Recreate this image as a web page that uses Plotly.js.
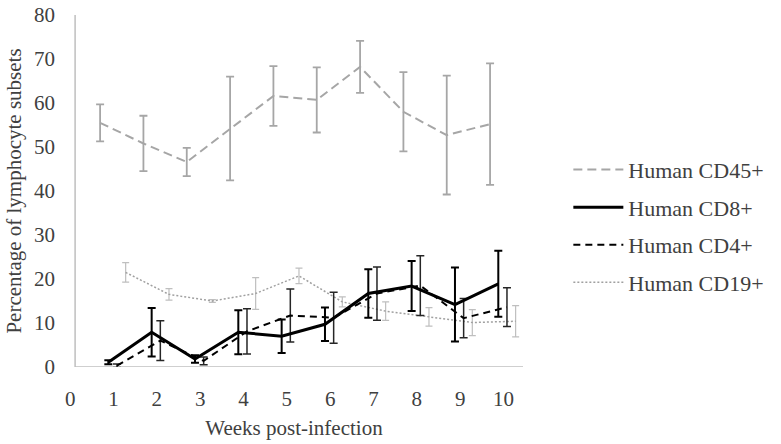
<!DOCTYPE html>
<html><head><meta charset="utf-8">
<script src="https://cdn.plot.ly/plotly-3.0.1.min.js"></script>
<style>html,body{margin:0;padding:0;background:#fff}</style>
</head><body><div id="chart" style="width:781px;height:444px"></div>
<script>
// ---- data ----
const weeks = [1, 2, 3, 4, 5, 6, 7, 8, 9, 10];
const xTickVals = [0, 1, 2, 3, 4, 5, 6, 7, 8, 9, 10];
const yTickVals = [0, 10, 20, 30, 40, 50, 60, 70, 80];
const seriesNames = ["Human CD45+", "Human CD8+", "Human CD4+", "Human CD19+"];

const cd45 = [55.5, 50.8, 46.6, 54.2, 61.6, 60.7, 68.2, 58.0, 52.7, 55.2];
const cd45Err = [4.2, 6.3, 3.2, 11.8, 6.8, 7.4, 5.9, 9.0, 13.5, 13.8];

const cd8 = [1.1, 7.9, 1.8, 7.9, 7.0, 9.7, 16.7, 18.4, 14.2, 18.9];
const cd8Err = [0.45, 5.5, 0.85, 5.0, 3.8, 3.8, 5.5, 5.7, 8.4, 7.5];

const cd4 = [0.3, 6.0, 1.4, 8.1, 11.7, 11.2, 16.7, 18.5, 11.1, 13.6];
const cd4Err = [0.4, 4.5, 0.9, 5.15, 6.0, 5.8, 6.05, 6.8, 4.45, 4.4];

const cd19 = [21.5, 16.5, 15.0, 16.7, 20.7, 14.8, 12.7, 11.4, 10.1, 10.4];
const cd19Err = [2.2, 1.3, 0.3, 3.6, 1.75, 1.15, 2.1, 2.1, 2.95, 3.55];

// ---- styling (positions / looks) ----
const styles = {
  cd45: {offset: -0.31, color: '#a6a6a6', width: 2, dash: '9px,5px', errColor: '#a6a6a6', errW: 1.8, cap: 4, rank: 1},
  cd8:  {offset: -0.12, color: '#000000', width: 3, dash: 'solid', errColor: '#000000', errW: 2, cap: 4, rank: 2},
  cd4:  {offset: 0.08, color: '#000000', width: 2, dash: '7px,5px', errColor: '#262626', errW: 1.5, cap: 4, rank: 3},
  cd19: {offset: 0.28, color: '#a0a0a0', width: 1.5, dash: '2px,2px', errColor: '#bfbfbf', errW: 1.2, cap: 3.5, rank: 4}
};

function mk(name, ys, errs, s) {
  return {
    type: 'scatter', mode: 'lines', name: name,
    x: weeks.map(w => w + s.offset), y: ys,
    line: {color: s.color, width: s.width, dash: s.dash},
    error_y: {type: 'data', array: errs, symmetric: true, color: s.errColor, thickness: s.errW, width: s.cap},
    legendrank: s.rank, legendgroup: name, hoverinfo: 'x+y'
  };
}

const data = [
  mk(seriesNames[0], cd45, cd45Err, styles.cd45),
  mk(seriesNames[3], cd19, cd19Err, styles.cd19),
  mk(seriesNames[2], cd4, cd4Err, styles.cd4),
  mk(seriesNames[1], cd8, cd8Err, styles.cd8)
];

const font = 'Times New Roman, Liberation Serif, DejaVu Serif, serif';
const txt = '#404040';
const axisCol = '#bfbfbf';
const x0 = 0.113, xMax = 10.45;

const layout = {
  width: 781, height: 444,
  margin: {l: 65, r: 248, t: 15, b: 77},
  paper_bgcolor: '#fff', plot_bgcolor: '#fff',
  font: {family: font, color: txt, size: 21},
  showlegend: true,
  legend: {
    x: 1.099, y: 0.62, xanchor: 'left', yanchor: 'top',
    font: {family: font, size: 22, color: txt},
    traceorder: 'grouped', tracegroupgap: 6, itemwidth: 50,
    bgcolor: 'rgba(0,0,0,0)'
  },
  xaxis: {
    range: [-0.12, xMax], tickvals: xTickVals, ticktext: xTickVals.map(String),
    showgrid: false, zeroline: false, showline: false, ticks: '',
    ticklabelstandoff: 17,
    tickfont: {family: font, size: 21, color: txt},
    title: {text: 'Weeks post-infection', font: {family: font, size: 21, color: txt}, standoff: 10}
  },
  yaxis: {
    range: [0, 80], tickvals: yTickVals,
    showgrid: false, zeroline: false, showline: false, ticks: '',
    ticklabelstandoff: 9,
    tickfont: {family: font, size: 21, color: txt},
    title: {text: 'Percentage of lymphocyte subsets', font: {family: font, size: 21, color: txt}, standoff: 6}
  },
  shapes: [
    {type: 'line', xref: 'x', yref: 'y', x0: x0, x1: x0, y0: 0, y1: 80, line: {color: axisCol, width: 1.5}, layer: 'below'},
    {type: 'line', xref: 'x', yref: 'y', x0: x0, x1: xMax, y0: 0, y1: 0, line: {color: axisCol, width: 1.5}, layer: 'below'}
  ]
};

Plotly.newPlot('chart', data, layout, {displayModeBar: false, staticPlot: true});
</script>
</body></html>
